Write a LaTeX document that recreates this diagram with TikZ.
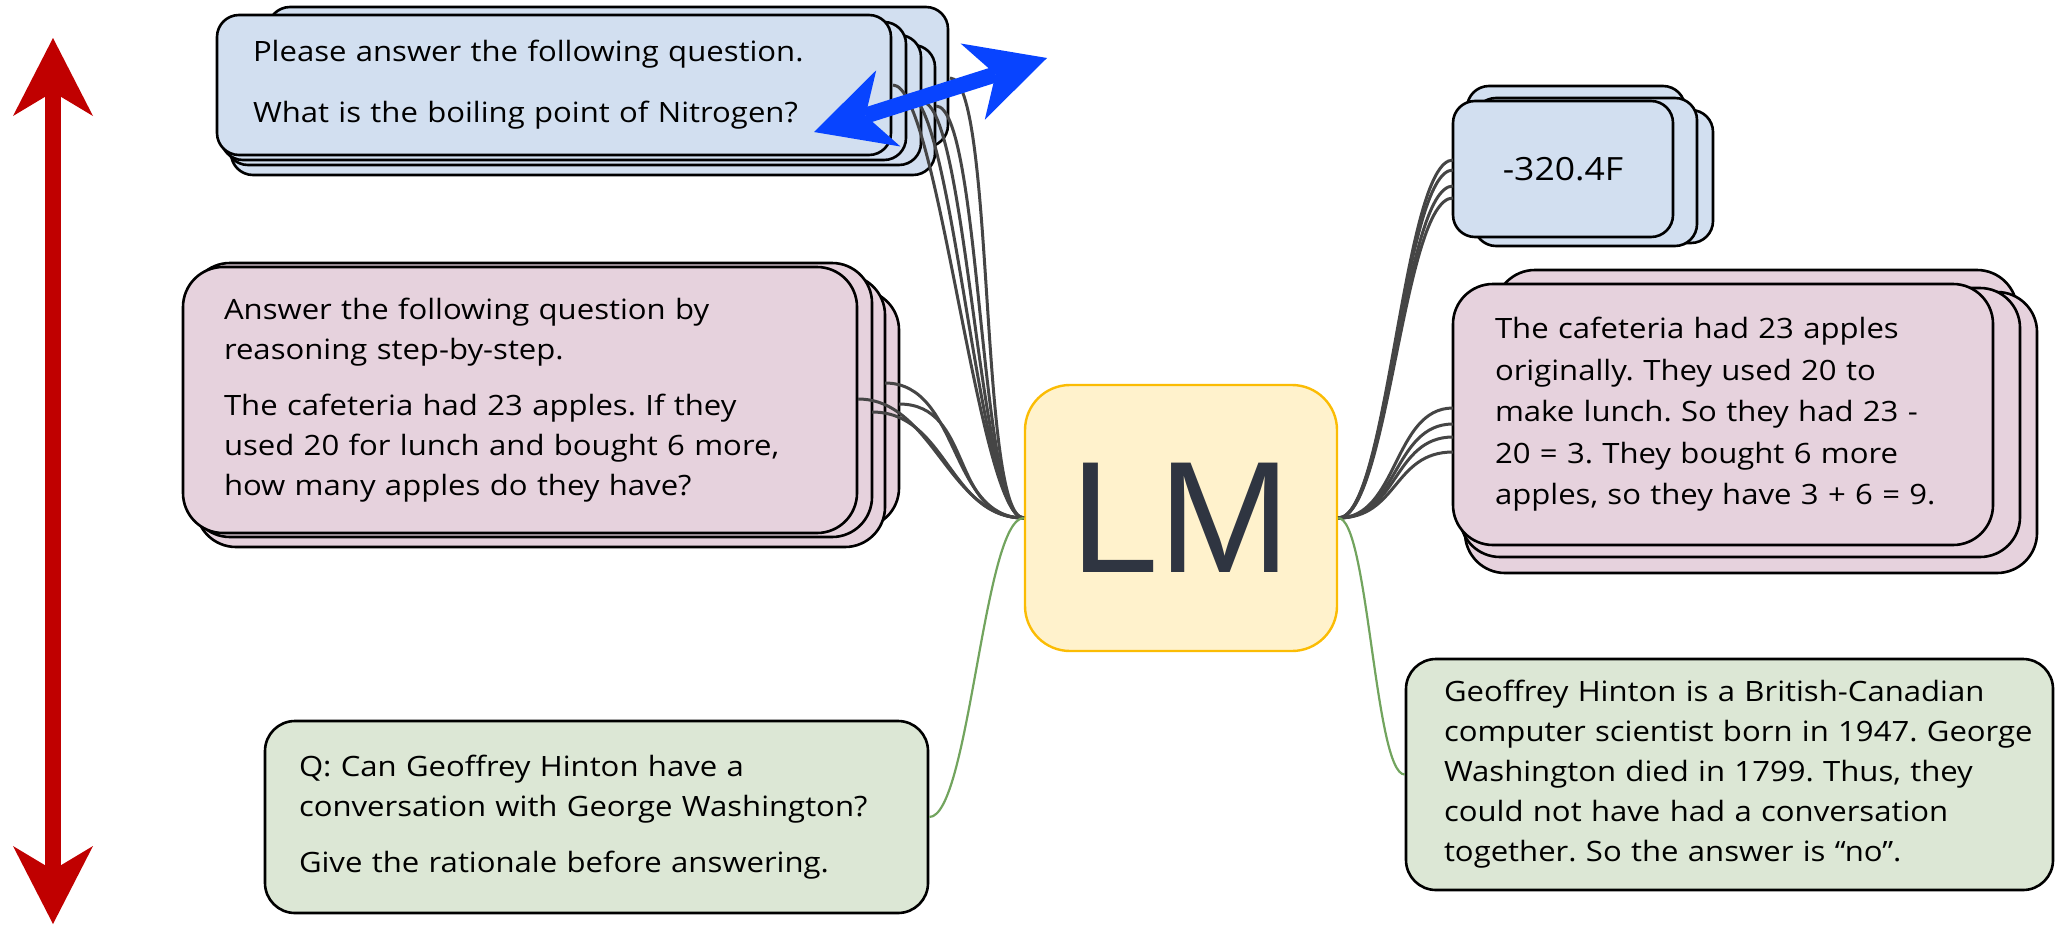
\documentclass[tikz,border=0pt]{standalone}
\usepackage{fontspec}
\setmainfont[FakeStretch=1.11]{Open Sans}
\newfontfamily\lmfont{Liberation Sans}
\usetikzlibrary{arrows.meta}
\frenchspacing

\definecolor{cardblue}{HTML}{D2DFF0}
\definecolor{cardpink}{HTML}{E6D2DD}
\definecolor{cardgreen}{HTML}{DCE7D5}
\definecolor{lmfill}{HTML}{FFF2CC}
\definecolor{lmborder}{HTML}{FBBC04}
\definecolor{lmtext}{HTML}{2F3541}
\definecolor{wire}{HTML}{454545}
\definecolor{greenwire}{HTML}{72A45E}
\definecolor{redarrow}{HTML}{C00000}
\definecolor{bluearrow}{HTML}{0844FF}

% one unbreakable line of card text
\newcommand\cardline[1]{\mbox{#1}}

\begin{document}
\begin{tikzpicture}[x=1pt,y=-1pt,
  cardedge/.style={draw=black, line width=2.6pt},
  textcard/.style={cardedge, align=left, anchor=center, inner ysep=0pt,
    font=\fontsize{28}{40}\selectfont, text=black},
  wireline/.style={draw=wire, line width=3pt},
  greenline/.style={draw=greenwire, line width=2.2pt},
  bothtips/.style={{Stealth[length=78pt,width=80pt,inset=24pt,line width=0pt]}-{Stealth[length=78pt,width=80pt,inset=24pt,line width=0pt]}},
]
\useasboundingbox (0,0) rectangle (2055,926);

% ---------- stacked cards behind each front card ----------
% question stack (top left)
\draw[cardedge, fill=cardblue, rounded corners=22pt] (268,7) rectangle (948,147);
\draw[cardedge, fill=cardblue, rounded corners=22pt] (231,45) rectangle (935,175);
\draw[cardedge, fill=cardblue, rounded corners=22pt] (226,35) rectangle (921,165);
\draw[cardedge, fill=cardblue, rounded corners=22pt] (221,22) rectangle (906,160);
% reasoning prompt stack (left)
\draw[cardedge, fill=cardpink, rounded corners=40pt] (232,290) rectangle (899,528);
\draw[cardedge, fill=cardpink, rounded corners=40pt] (196,275) rectangle (885,547);
\draw[cardedge, fill=cardpink, rounded corners=40pt] (190,263) rectangle (872,537);
% answer stack (top right)
\draw[cardedge, fill=cardblue, rounded corners=22pt] (1467,86) rectangle (1685,218);
\draw[cardedge, fill=cardblue, rounded corners=22pt] (1482,110) rectangle (1713,243);
\draw[cardedge, fill=cardblue, rounded corners=22pt] (1474,98) rectangle (1697,246);
% worked answer stack (right)
\draw[cardedge, fill=cardpink, rounded corners=40pt] (1495,270) rectangle (2017,530);
\draw[cardedge, fill=cardpink, rounded corners=40pt] (1465,292) rectangle (2037,573);
\draw[cardedge, fill=cardpink, rounded corners=40pt] (1460,288) rectangle (2020,557);

% ---------- front cards ----------
\node[textcard, fill=cardblue, rounded corners=22pt,
  minimum width=674pt, minimum height=140pt, inner xsep=36pt, text width=602pt]
  (question) at (554,85)
  {\cardline{Please answer the following question.}\\[21pt]
   \cardline{What is the boiling point of Nitrogen?}};

\node[textcard, fill=cardpink, rounded corners=40pt,
  minimum width=674pt, minimum height=266pt, inner xsep=41pt, text width=592pt]
  (cotprompt) at (520,400)
  {\cardline{Answer the following question by}\\
   \cardline{reasoning step-by-step.}\\[16pt]
   \cardline{The cafeteria had 23 apples. If they}\\
   \cardline{used 20 for lunch and bought 6 more,}\\
   \cardline{how many apples do they have?}};

\node[textcard, fill=cardgreen, rounded corners=30pt,
  minimum width=663pt, minimum height=192pt, inner xsep=34pt, text width=595pt]
  (hintonq) at (596.5,817)
  {\cardline{Q: Can Geoffrey Hinton have a}\\
   \cardline{conversation with George Washington?}\\[16pt]
   \cardline{Give the rationale before answering.}};

\node[textcard, fill=cardblue, rounded corners=22pt, align=center,
  font=\fontsize{32}{40}\selectfont,
  minimum width=220pt, minimum height=136pt, inner xsep=10pt, text width=200pt]
  (answer) at (1563,169) {-320.4F};

\node[textcard, fill=cardpink, rounded corners=40pt,
  font=\fontsize{28}{41.5}\selectfont,
  minimum width=540pt, minimum height=261pt, inner xsep=42pt, text width=456pt]
  (cotanswer) at (1723,414.5)
  {\cardline{The cafeteria had 23 apples}\\
   \cardline{originally. They used 20 to}\\
   \cardline{make lunch. So they had 23 -}\\
   \cardline{20 = 3. They bought 6 more}\\
   \cardline{apples, so they have 3 + 6 = 9.}};

\node[textcard, fill=cardgreen, rounded corners=30pt,
  minimum width=647pt, minimum height=231pt, inner xsep=38pt, text width=571pt]
  (hintona) at (1729.5,774.5)
  {\cardline{Geoffrey Hinton is a British-Canadian}\\
   \cardline{computer scientist born in 1947. George}\\
   \cardline{Washington died in 1799. Thus, they}\\
   \cardline{could not have had a conversation}\\
   \cardline{together. So the answer is “no”.}};

% ---------- the model ----------
\node[draw=lmborder, line width=2.4pt, fill=lmfill, rounded corners=45pt,
  minimum width=312pt, minimum height=266pt, inner sep=0pt,
  font=\lmfont\fontsize{159}{159}\selectfont, text=lmtext]
  (lm) at (1181,518) {LM};

% ---------- wire end points on the stacked cards ----------
\coordinate (q1) at (893,85);
\coordinate (q2) at (908,95);
\coordinate (q3) at (922,102);
\coordinate (q4) at (936,106);
\coordinate (q5) at (950,78);
\coordinate (p1) at (885,383);
\coordinate (p2) at (858,399);
\coordinate (p3) at (872,412);
\coordinate (p4) at (899,404);
\coordinate (a1) at (1453,160);
\coordinate (a2) at (1453,170);
\coordinate (a3) at (1453,186);
\coordinate (a4) at (1453,198);
\coordinate (r1) at (1453,408);
\coordinate (r2) at (1453,424);
\coordinate (r3) at (1453,437);
\coordinate (r4) at (1453,452);

% ---------- wires ----------
\foreach \e in {q1,q2,q3,q4,q5}
  \draw[wireline] (\e) .. controls +(45,0) and +(-45,0) .. (lm.west);
\foreach \e in {p1,p2,p3,p4}
  \draw[wireline] (\e) .. controls +(75,0) and +(-75,0) .. (lm.west);
\foreach \e in {a1,a2,a3,a4}
  \draw[wireline] (lm.east) .. controls +(50,0) and +(-50,0) .. (\e);
\foreach \e in {r1,r2,r3,r4}
  \draw[wireline] (lm.east) .. controls +(60,0) and +(-60,0) .. (\e);
\draw[greenline] (lm.west) .. controls +(-40,0) and +(40,0) .. (hintonq.east);
\draw[greenline] (lm.east) .. controls +(30,0) and +(-30,0) .. (hintona.west);

% ---------- double arrows ----------
\coordinate (redtop) at (53,38);
\coordinate (redbottom) at (53,924);
\draw[bothtips, draw=redarrow, fill=redarrow, line width=16pt] (redbottom) -- (redtop);
\coordinate (bluelow) at (814,132);
\coordinate (bluehigh) at (1047,58);
\draw[bothtips, draw=bluearrow, fill=bluearrow, line width=16pt] (bluelow) -- (bluehigh);
\end{tikzpicture}
\end{document}
